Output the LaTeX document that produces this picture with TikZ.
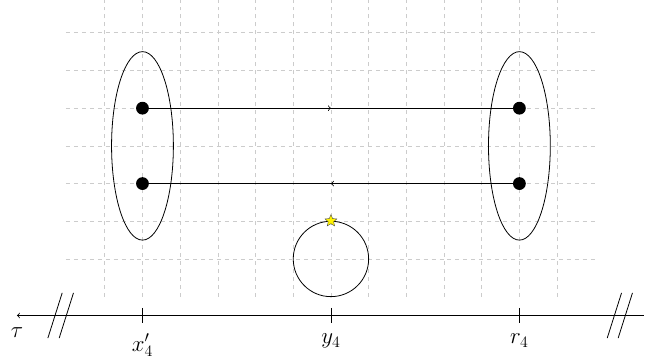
\documentclass[tikz,border=0pt]{standalone}
\usetikzlibrary{decorations.markings,shapes.geometric}
\begin{document}
\begin{tikzpicture}[
  gridline/.style={gray!40, dashed, line width=0.5pt},
  dotnode/.style={circle, fill=black, inner sep=0pt, minimum size=0.34cm},
  midright/.style={postaction={decorate}, decoration={markings, mark=at position 0.5 with {\arrow{>}}}},
  curve/.style={line width=0.6pt},
  tick/.style={line width=0.6pt},
  brk/.style={line width=0.6pt},
  lab/.style={font=\fontsize{17}{20}\selectfont, inner sep=1pt}
]
\useasboundingbox (-8.78,-2.73) rectangle (8.73,6.87);
% grid
\foreach \y in {0,...,6} \draw[gridline] (-7.03,\y) -- (7.03,\y);
\foreach \x in {-6,...,6} \draw[gridline] (\x,-1) -- (\x,6.87);
% ellipses
\node[ellipse, draw, curve, minimum width=1.64cm, minimum height=5cm, inner sep=0pt] (eL) at (-5,3) {};
\node[ellipse, draw, curve, minimum width=1.64cm, minimum height=5cm, inner sep=0pt] (eR) at (5,3) {};
% dots
\node[dotnode] (a1) at (-5,4) {};
\node[dotnode] (a2) at (-5,2) {};
\node[dotnode] (b1) at (5,4) {};
\node[dotnode] (b2) at (5,2) {};
\draw[curve, midright] (a1.center) -- (b1.center);
\draw[curve, midright] (b2.center) -- (a2.center);
% circle
\node[circle, draw, curve, minimum size=2cm, inner sep=0pt] (c) at (0,0) {};
\node[star, star points=5, star point ratio=2.2, fill=yellow, draw=black!70, line width=0.3pt, inner sep=0pt, minimum size=0.33cm] (s) at (c.north) {};
% axis
\coordinate (axL) at (-8.33,-1.5);
\coordinate (axR) at (8.3,-1.5);
\draw[curve, ->] (axR) -- (axL);
\node[lab, anchor=north] (tau) at (-8.33,-1.78) {$\tau$};
% ticks
\foreach \n/\x/\l in {t1/-5/{x'_4}, t2/0/{y_4}, t3/5/{r_4}} {
  \coordinate (\n top) at (\x,-1.3);
  \coordinate (\n bot) at (\x,-1.7);
  \draw[tick] (\n top) -- (\n bot);
  \node[lab, anchor=north] (\n lab) at (\x,-1.95) {$\l$};
}
% breaks
\foreach \i/\cx in {1/-7.32,2/-7.02,3/7.52,4/7.81} {
  \coordinate (pa\i) at (\cx-0.19,-2.1);
  \coordinate (pb\i) at (\cx+0.19,-0.9);
  \draw[brk] (pa\i) -- (pb\i);
}
\end{tikzpicture}
\end{document}
